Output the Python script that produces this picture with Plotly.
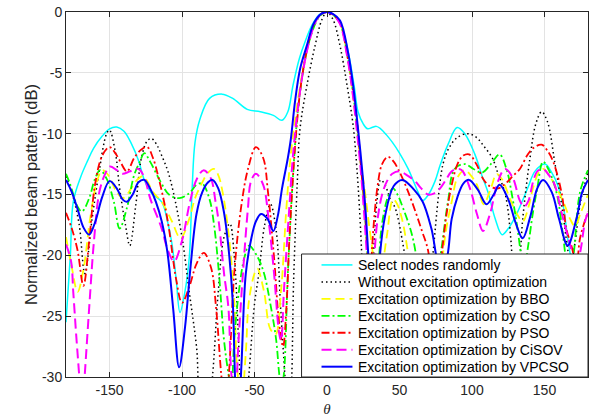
import plotly.graph_objects as go

# Beam pattern samples (theta in degrees, normalized gain in dB)
theta_random = [-180, -177, -175, -170, -165, -161, -155, -150, -145, -140, -135, -130, -126, -121,
                -114, -110, -107, -104, -101.4, -98, -95, -93, -91, -87.6, -81, -72.4, -65, -55, -46,
                -37, -31, -27, -23.4, -19, -15, -10, -5, 0, 5, 10, 15, 19, 21.4, 25, 28, 31, 34, 37,
                41, 45, 50, 56, 62.8, 66, 70, 74.5, 78, 83.4, 89.7, 95, 102, 107, 111, 116, 120.7,
                125, 130, 134.5, 139, 143.4, 150.3, 155, 159, 163, 166, 168, 172, 176, 180]
db_random = [-25.5, -20.0, -15.6, -13.6, -12.2, -11.2, -10.2, -9.6, -9.45, -9.8, -10.8, -12.2, -13.8, -14.9,
             -15.6, -17.2, -19.0, -22.0, -24.7, -23.0, -20.2, -14.5, -10.7, -8.8, -7.1, -6.75, -7.1, -8.0, -8.2,
             -8.5, -8.9, -8.2, -6.0, -3.8, -2.4, -1.0, -0.2, 0.0, -0.3, -1.2, -3.5, -6.3, -8.2, -9.2, -9.6, -9.5, -9.4, -9.6,
             -10.1, -10.7, -11.6, -12.9, -14.8, -15.5, -15.0, -13.9, -12.6, -10.9, -9.5, -10.0, -11.7, -13.5, -14.8, -17.0, -18.3,
             -17.8, -16.8, -15.6, -14.3, -13.1, -12.5, -13.2, -14.2, -16.0, -18.6, -20.0, -21.5, -21.0, -20.0]

theta_plain = [-180, -176, -171, -167, -162, -157, -152, -150, -146, -143, -139, -136, -132, -128, -124, -121,
               -117, -114, -110, -106, -100, -95, -90, -86, -82, -79, -75, -71, -67, -64, -61, -58, -54, -50,
               -47, -43, -39, -35, -32, -29, -27, -25, -23, -20.5, -18.6, -13.8, -8.3, -3.4, 0, 4.1, 9, 13.8,
               18, 20.7, 23, 25, 27, 29, 32, 34.5, 37, 40, 44, 47, 52.4, 56, 62, 68, 73, 77, 80, 84, 90, 97,
               103, 108, 114, 118, 123, 127, 129, 132, 135, 140, 144, 148, 152, 157, 162, 166, 168, 171, 175, 180]
db_plain = [-13.5, -14.8, -17.4, -21.5, -17.0, -13.0, -10.0, -9.7, -11.5, -14.5, -17.5, -19.2, -16.0, -12.0, -10.6, -10.4,
            -11.0, -11.8, -13.0, -14.8, -18.5, -23.0, -27.5, -33.0, -33.0, -30.0, -23.0, -18.5, -17.4, -20.0, -27.0, -35.0, -30.0, -24.0,
            -21.5, -17.5, -15.8, -18.0, -24.3, -30.0, -34.0, -32.0, -22.0, -14.0, -9.6, -6.0, -2.8, -0.6, 0.0, -0.6, -2.8, -6.0,
            -9.3, -13.0, -17.5, -23.0, -30.0, -27.0, -20.0, -15.5, -13.8, -14.2, -15.5, -16.1, -19.1, -22.0, -28.0, -26.0, -20.0, -15.0, -12.5, -11.2, -10.3, -10.0,
            -10.3, -11.0, -12.0, -13.3, -15.0, -19.0, -24.0, -22.0, -17.0, -12.0, -9.2, -8.2, -9.0, -12.3, -16.0, -19.5, -21.0, -19.0, -15.5, -13.2]

theta_bbo = [-180, -176, -172, -168, -163.4, -158.6, -155, -150.3, -146, -140.7, -135, -131, -127, -124, -120,
             -114, -107, -101, -95, -91, -86, -82, -78, -75, -72, -67.6, -64, -62, -59, -56, -53.8, -49.7, -48,
             -43.4, -39.3, -35.5, -31.7, -28, -24.8, -21, -17, -13, -8, -4, 0, 4, 9, 14, 17.5, 21, 24, 26, 29,
             31.7, 34, 37, 41.4, 45.5, 48, 51.7, 56, 62, 70, 78, 82, 86, 90, 95, 99, 103.4, 108, 113, 117, 121,
             126, 131, 135, 139, 142, 146, 149, 153, 157, 163, 167.6, 171, 175, 180]
db_bbo = [-18.5, -21.0, -23.0, -21.2, -17.0, -13.9, -13.0, -13.5, -14.6, -15.3, -14.5, -13.8, -13.5, -13.9, -14.8,
          -15.6, -17.2, -18.6, -17.0, -15.3, -14.0, -13.2, -12.9, -13.4, -14.8, -18.5, -23.7, -29.2, -32.0, -28.0, -23.7, -21.4, -21.1,
          -23.0, -26.0, -26.5, -22.9, -16.1, -11.5, -8.0, -5.0, -2.6, -0.8, -0.2, 0.0, -0.2, -0.9, -3.5, -6.5, -10.0, -13.0, -14.6, -17.5,
          -20.0, -24.0, -22.0, -18.3, -15.4, -15.7, -17.0, -19.9, -25.0, -28.0, -22.0, -18.0, -15.6, -13.6, -13.0, -13.4, -14.2, -15.8, -14.5, -13.3, -13.8,
          -15.3, -16.6, -17.2, -16.0, -14.5, -13.2, -12.9, -13.4, -14.2, -15.6, -17.0, -17.6, -16.5, -15.0]

theta_cso = [-180, -177, -172, -169, -164, -160, -156.5, -152, -147, -143, -138, -133, -129, -126, -122, -115,
             -109, -102, -95, -90, -86, -81, -78, -74.5, -71, -68, -66, -64, -60.7, -57, -53.8, -47.6, -43.4,
             -38.6, -35, -33, -31.5, -29.7, -27, -23.4, -20, -16, -12, -7, -3, 0, 4, 9, 14, 17.5, 21, 24.5, 27,
             30, 33, 36, 38, 42, 45.5, 49, 52.4, 58.6, 63, 70, 77, 83.4, 88, 95, 101, 107, 113, 119, 124, 127.5,
             131, 134, 136, 139, 142, 145, 149, 153, 158.6, 163, 167, 170, 174.5, 180]
db_cso = [-13.3, -14.2, -16.0, -16.4, -15.3, -13.7, -13.0, -13.7, -15.6, -17.8, -16.1, -13.4, -12.3, -11.6, -12.3, -13.9,
          -15.0, -15.3, -14.9, -14.2, -14.1, -15.4, -17.4, -21.5, -27.0, -29.7, -31.0, -27.0, -22.9, -20.2, -19.2, -20.2, -21.5,
          -24.3, -27.0, -29.7, -31.0, -29.7, -21.5, -13.4, -8.0, -4.5, -2.3, -0.7, -0.1, 0.0, -0.2, -0.9, -3.5, -6.2, -9.8, -14.0, -18.0,
          -24.0, -27.0, -20.0, -17.4, -15.2, -14.5, -15.1, -16.1, -18.3, -21.0, -25.0, -21.0, -15.6, -12.9, -12.5, -12.9, -13.2, -12.5, -11.7, -13.0, -15.0,
          -17.5, -20.0, -21.0, -19.0, -16.5, -14.5, -12.3, -13.0, -15.0, -18.6, -22.0, -20.0, -14.8, -13.0]

theta_pso = [-180, -176, -172, -168, -164, -160, -155, -150, -146, -143, -138, -133, -128, -124, -120, -116,
             -112, -109, -104, -100, -95, -90, -85, -80, -76.5, -73, -70, -67.6, -64, -59.3, -54.5, -49, -44,
             -40.7, -36.5, -33, -30.3, -28, -26, -23.4, -21, -18, -14, -9, -4, 0, 4, 9, 14, 17.5, 20.7, 24, 26,
             28, 29.5, 31, 35, 38, 42, 46, 49, 54, 58.6, 65.5, 69.7, 74, 78, 82, 85, 90, 94, 98, 103, 107.6,
             112, 118, 124, 128, 133, 138, 142, 148, 152, 156, 162, 165, 169, 172, 174.5, 180]
db_pso = [-16.5, -17.8, -19.6, -22.5, -18.8, -14.2, -11.8, -11.1, -11.6, -12.2, -13.1, -12.0, -11.3, -11.1, -12.0, -13.7,
          -15.8, -17.8, -22.0, -23.9, -22.6, -20.7, -19.8, -21.0, -24.3, -29.7, -33.0, -29.7, -21.5, -16.1, -12.9, -11.1, -12.0,
          -14.8, -20.2, -25.6, -27.5, -24.3, -18.8, -13.4, -9.5, -6.0, -3.2, -1.0, -0.15, 0.0, -0.2, -0.9, -3.6, -6.2, -9.0, -13.5, -16.0,
          -20.5, -26.0, -19.6, -14.2, -12.5, -11.9, -12.3, -12.9, -14.2, -15.6, -18.0, -19.6, -24.0, -21.0, -17.0, -14.8, -12.5, -11.8, -11.7, -12.5, -13.7,
          -14.3, -14.5, -14.0, -13.5, -12.9, -11.8, -11.2, -10.9, -11.4, -12.3, -15.0, -17.8, -19.4, -21.0, -18.6, -16.4]

theta_cisov = [-180, -176.5, -175, -173, -171, -169, -167, -164, -160.7, -157, -153, -149.7, -145, -141, -136,
               -130, -126, -122, -114, -110, -105.5, -100, -94.5, -89.7, -85, -80, -77, -74.5, -71, -68, -66,
               -63.5, -61, -58, -54.5, -52.4, -49, -44, -40, -36.5, -33, -31.7, -29.7, -26, -23.4, -20, -16,
               -12, -7, -3, 0, 4, 9, 14, 17.5, 21, 24, 27, 29.5, 31.5, 34.5, 38, 41.4, 45, 50, 55, 60.7, 65,
               69.7, 74, 78, 82, 86, 90, 93, 98.6, 103.4, 107.6, 112.4, 118, 122.8, 128, 133, 136, 139, 142,
               145, 149, 153, 157, 162, 167.6, 172, 175, 178, 180]
db_cisov = [-19.1, -20.5, -23.0, -26.5, -29.7, -33.0, -29.7, -24.3, -18.8, -14.8, -13.3, -12.7, -13.0, -13.3, -13.1,
            -12.9, -13.6, -15.3, -17.8, -19.5, -20.5, -18.8, -15.6, -13.7, -13.0, -13.7, -15.5, -17.4, -21.5, -24.3, -29.7,
            -32.0, -27.0, -21.5, -16.1, -13.9, -13.3, -14.2, -17.4, -21.5, -26.4, -27.0, -22.9, -16.1, -11.7, -7.8, -4.5,
            -2.3, -0.6, -0.1, 0.0, -0.2, -1.0, -3.7, -6.5, -10.2, -14.0, -19.0, -24.0, -22.0, -17.4, -15.0, -13.9, -13.3, -13.1, -13.4, -13.9, -14.5,
            -15.0, -14.9, -14.5, -13.8, -13.1, -12.9, -13.0, -14.5, -16.6, -18.0, -16.6, -13.9, -12.9, -13.6, -15.5, -16.0, -15.5, -14.0,
            -13.1, -12.9, -13.4, -14.2, -16.6, -19.1, -21.0, -19.5, -17.2, -16.5]

theta_vpcso = [-180, -176, -172, -168, -164, -160, -155, -150, -145, -141, -138, -134, -130, -126, -122, -118,
               -114, -110, -106, -102, -98, -94, -90, -86, -82, -79, -75, -71, -68, -65, -63, -61, -59, -56, -52,
               -49, -45.5, -41, -37, -34, -31, -27, -25, -22, -18.6, -14, -9, -4, 0, 4, 9, 14.5, 18, 21.4, 24.8,
               27, 30, 33, 36.5, 40, 46, 52, 60, 66, 72, 78, 82, 86, 90, 94, 98, 104, 110, 115, 119, 125, 130,
               135, 140, 145, 149, 155, 160, 166, 172, 176, 180]
db_vpcso = [-13.8, -14.8, -16.2, -17.7, -18.3, -17.3, -15.2, -13.9, -14.5, -15.4, -15.6, -15.0, -14.0, -13.8, -14.5, -15.6,
            -17.2, -19.8, -24.5, -29.2, -26.0, -20.8, -16.6, -14.8, -14.0, -13.8, -14.5, -16.5, -19.3, -23.8, -31.0, -33.0, -29.0, -21.5, -18.5,
            -17.2, -16.6, -17.0, -18.0, -16.8, -14.5, -12.0, -10.5, -7.3, -4.7, -2.8, -0.9, -0.15, 0.0, -0.15, -0.7, -3.3, -6.0, -9.6, -13.7,
            -17.0, -23.0, -28.0, -20.0, -16.8, -14.3, -13.8, -14.6, -15.6, -17.8, -21.0, -20.5, -17.0, -15.2, -14.1, -13.8, -14.6, -15.8, -15.0, -14.2, -15.4, -17.3,
            -18.6, -16.9, -14.5, -13.8, -14.8, -17.0, -19.2, -17.0, -14.8, -13.8]

x_ticks = [-150, -100, -50, 0, 50, 100, 150]
y_ticks = [0, -5, -10, -15, -20, -25, -30]

series = [
    ("Select nodes randomly", theta_random, db_random, "#00FFFF", 1.5, "solid"),
    ("Without excitation optimization", theta_plain, db_plain, "#000000", 1.5, "1.5px,3px"),
    ("Excitation optimization by BBO", theta_bbo, db_bbo, "#FFFF00", 1.8, "9px,5px"),
    ("Excitation optimization by CSO", theta_cso, db_cso, "#00FF00", 1.8, "8px,3px,2px,3px"),
    ("Excitation optimization by PSO", theta_pso, db_pso, "#FF0000", 1.8, "8px,3px,2px,3px"),
    ("Excitation optimization by CiSOV", theta_cisov, db_cisov, "#FF00FF", 2.0, "10px,5px"),
    ("Excitation optimization by VPCSO", theta_vpcso, db_vpcso, "#0000FF", 2.0, "solid"),
]

W, H = 593, 418
M_L, M_R, M_T, M_B = 66, 4, 9, 41
plot_w = W - M_L - M_R
plot_h = H - M_T - M_B


def px_x(px):
    return (px - M_L) / plot_w


def px_y(py):
    return (H - M_B - py) / plot_h


fig = go.Figure()
for name, th, db, color, width, dash in series:
    fig.add_trace(go.Scatter(
        x=th, y=db, mode="lines", name=name, showlegend=False,
        line=dict(color=color, width=width, dash=dash, shape="spline", smoothing=1.0),
    ))

# Boxed legend in the lower-right corner of the axes
shapes = [dict(type="rect", xref="paper", yref="paper", layer="above",
               x0=px_x(302), x1=1.0, y0=0.0, y1=px_y(253),
               fillcolor="white", line=dict(color="#262626", width=1))]
annotations = []
row_top, row_step = 264.0, 17.1
for i, (name, th, db, color, width, dash) in enumerate(series):
    yc = px_y(row_top + i * row_step)
    shapes.append(dict(type="line", xref="paper", yref="paper", layer="above",
                       x0=px_x(322), x1=px_x(353), y0=yc, y1=yc,
                       line=dict(color=color, width=width, dash=dash)))
    annotations.append(dict(text=name, xref="paper", yref="paper", x=px_x(357), y=yc,
                            xanchor="left", yanchor="middle", showarrow=False,
                            font=dict(family="Liberation Sans, Arial, sans-serif", size=14, color="#000000")))

axis_common = dict(
    showline=True, linecolor="#262626", linewidth=1, mirror="ticks",
    ticks="inside", ticklen=5, tickcolor="#262626",
    showgrid=True, gridcolor="#e3e3e3", gridwidth=1, zeroline=False,
    tickfont=dict(family="Liberation Sans, Arial, sans-serif", size=14, color="#262626"),
)

fig.update_xaxes(range=[-180, 180], tickvals=x_ticks, ticktext=[str(v) for v in x_ticks],
                 title=dict(text="<i>θ</i>", standoff=6,
                            font=dict(family="Liberation Serif, serif", size=15, color="#262626")),
                 **axis_common)
fig.update_yaxes(range=[-30, 0], tickvals=y_ticks, ticktext=[str(v) for v in y_ticks],
                 title=dict(text="Normalized beam pattern (dB)", standoff=0,
                            font=dict(family="Liberation Sans, Arial, sans-serif", size=16.5, color="#262626")),
                 **axis_common)

fig.update_layout(
    width=W, height=H,
    margin=dict(l=M_L, r=M_R, t=M_T, b=M_B),
    paper_bgcolor="white", plot_bgcolor="white",
    showlegend=False,
    shapes=shapes, annotations=annotations,
)

fig.write_html("out.html")
